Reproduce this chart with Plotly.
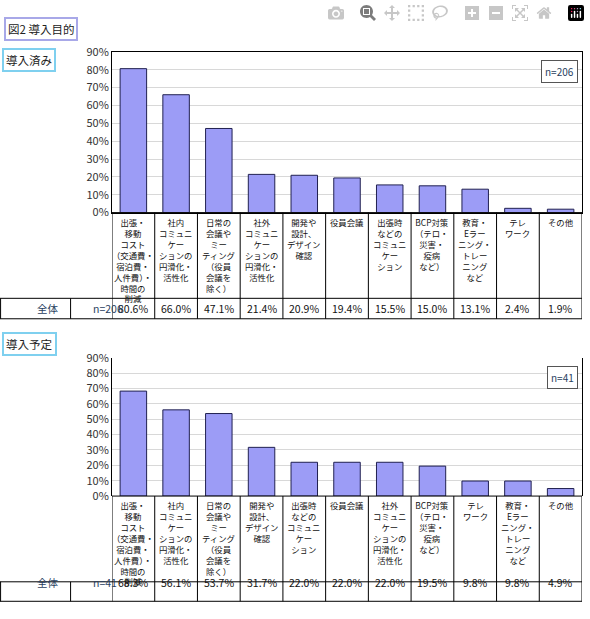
import plotly.graph_objects as go

W, H = 590, 619
FONT = "Noto Sans CJK JP"

cats1 = ["出張・<br>移動<br>コスト<br>（交通費・<br>宿泊費・<br>人件費）・<br>時間の<br>削減",
         "社内<br>コミュニ<br>ケー<br>ションの<br>円滑化・<br>活性化",
         "日常の<br>会議や<br>ミー<br>ティング<br>（役員<br>会議を<br>除く）",
         "社外<br>コミュニ<br>ケー<br>ションの<br>円滑化・<br>活性化",
         "開発や<br>設計、<br>デザイン<br>確認",
         "役員会議",
         "出張時<br>などの<br>コミュニ<br>ケー<br>ション",
         "BCP対策<br>（テロ・<br>災害・<br>疫病<br>など）",
         "教育・<br>Eラー<br>ニング・<br>トレー<br>ニング<br>など",
         "テレ<br>ワーク",
         "その他"]
vals1 = [80.6, 66.0, 47.1, 21.4, 20.9, 19.4, 15.5, 15.0, 13.1, 2.4, 1.9]
n1 = 206

order2 = [0, 1, 2, 4, 6, 5, 3, 7, 9, 8, 10]
cats2 = [cats1[i] for i in order2]
vals2 = [68.3, 56.1, 53.7, 31.7, 22.0, 22.0, 22.0, 19.5, 9.8, 9.8, 4.9]
n2 = 41

yticks = list(range(0, 91, 10))

fig = go.Figure()
X0, X1 = 112, 582

def py(p):
    return 1 - p / H

panels = [
    (cats1, vals1, n1, "導入済み", 44, 209, 297, 318, "", 40),
    (cats2, vals2, n2, "導入予定", 358, 500, 588, 608, "2", 332),
]
shapes, annos = [], []
for cats, vals, n, badge, top, bot, lab_bot, row_bot, ax, btop in panels:
    xa = "x" + ax
    ya = "y" + ax
    fig.add_trace(go.Bar(x=list(range(len(vals))), y=vals, xaxis=xa, yaxis=ya,
                         marker=dict(color="#9c9cf6", line=dict(color="#202050", width=1)),
                         width=0.62, showlegend=False))
    key = "" if ax == "" else ax
    fig.layout["xaxis" + key] = dict(domain=[X0 / W, X1 / W], range=[-0.5, len(vals) - 0.5],
                                     showticklabels=False, showgrid=False, zeroline=False,
                                     showline=True, linecolor="black", mirror=True, fixedrange=True)
    fig.layout["yaxis" + key] = dict(domain=[py(bot), py(top)], range=[0, 90], tickvals=yticks,
                                     ticktext=[f"{v}%" for v in yticks], showgrid=True,
                                     gridcolor="#d8d8d8", zeroline=False, showline=True,
                                     linecolor="black", mirror=True, ticks="",
                                     tickfont=dict(size=11, family=FONT, color="#333"))
    # label area and table borders
    for y0 in (bot, lab_bot, row_bot):
        shapes.append(dict(type="line", xref="paper", yref="paper", x0=(0 if y0 != bot else X0 / W),
                           x1=X1 / W, y0=py(y0), y1=py(y0), line=dict(color="black", width=1)))
    for i in range(len(vals) + 1):
        shapes.append(dict(type="line", xref=xa, yref="paper", x0=i - 0.5, x1=i - 0.5,
                           y0=py(row_bot), y1=py(bot), line=dict(color="black", width=1)))
    for xp in (0, 70):
        shapes.append(dict(type="line", xref="paper", yref="paper", x0=xp / W + 0.001, x1=xp / W + 0.001,
                           y0=py(row_bot), y1=py(lab_bot), line=dict(color="black", width=1)))
    for i, c in enumerate(cats):
        annos.append(dict(x=i, xref=xa, y=py(bot + 1), yref="paper", text=c, showarrow=False,
                          yanchor="top", font=dict(size=8.4, family=FONT, color="#111")))
        annos.append(dict(x=i, xref=xa, y=py((lab_bot + row_bot) / 2), yref="paper",
                          text=f"{vals[i]:.1f}%", showarrow=False,
                          font=dict(size=10.5, family=FONT, color="#111")))
    annos.append(dict(x=35 / W, xref="paper", y=py((lab_bot + row_bot) / 2), yref="paper", text="全体",
                      showarrow=False, font=dict(size=10.5, family=FONT)))
    annos.append(dict(x=91 / W, xref="paper", y=py((lab_bot + row_bot) / 2), yref="paper", text=f"n={n}",
                      showarrow=False, font=dict(size=10.5, family=FONT)))
    annos.append(dict(x=578 / W, xref="paper", y=py(top + 8), yref="paper", text=f"n={n}",
                      showarrow=False, xanchor="right", yanchor="top", bgcolor="white",
                      bordercolor="#555", borderwidth=1, borderpad=3,
                      font=dict(size=10, family=FONT)))
    annos.append(dict(x=2 / W, xref="paper", y=py(btop), yref="paper", text=badge,
                      showarrow=False, xanchor="left", yanchor="top", bgcolor="white",
                      bordercolor="#7fd0ef", borderwidth=2, borderpad=2,
                      font=dict(size=11.5, family=FONT, color="#222")))

annos.append(dict(x=4 / W, xref="paper", y=py(8), yref="paper", text="図2 導入目的",
                  showarrow=False, xanchor="left", yanchor="top", bgcolor="white",
                  bordercolor="#a8a8e8", borderwidth=2, borderpad=2,
                  font=dict(size=11.5, family=FONT, color="#222")))

fig.update_layout(width=W, height=H, margin=dict(l=0, r=0, t=0, b=0),
                  plot_bgcolor="white", paper_bgcolor="white", bargap=0.38,
                  shapes=shapes, annotations=annos)
fig.write_html("out.html", post_script="document.body.style.margin='0';document.body.style.overflow='hidden';")
